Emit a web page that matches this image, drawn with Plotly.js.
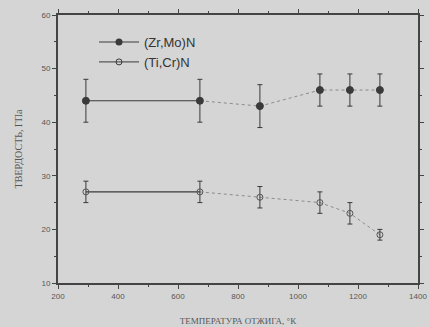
<!DOCTYPE html>
<html><head><meta charset="utf-8">
<script src="https://cdn.plot.ly/plotly-3.0.1.min.js"></script>
<style>html,body{margin:0;padding:0;background:#d5d5d5;}</style>
</head><body>
<div id="chart" style="width:430px;height:327px;"></div>
<script>
const temps = [293, 673, 873, 1073, 1173, 1273];
const zrMo = [44, 44, 43, 46, 46, 46];
const zrMoErr = [4, 4, 4, 3, 3, 3];
const tiCr = [27, 27, 26, 25, 23, 19];
const tiCrErr = [2, 2, 2, 2, 2, 1];
const seriesNames = ['(Zr,Mo)N', '(Ti,Cr)N'];

const axisCol = '#444';
const markCol = '#3a3a3a';

function seriesTraces(y, err, name, filled) {
  return [
    {x: temps.slice(1), y: y.slice(1), mode: 'lines', line: {color: '#777', width: 0.8, dash: 'dot'},
     showlegend: false, hoverinfo: 'skip'},
    {x: temps.slice(0, 2), y: y.slice(0, 2), mode: 'lines', line: {color: markCol, width: 1.2},
     showlegend: false, hoverinfo: 'skip'},
    {x: temps, y: y, name: name, mode: 'markers',
     marker: {symbol: filled ? 'circle' : 'circle-open', size: filled ? 7 : 6, color: filled ? markCol : '#555',
              line: {color: markCol, width: 1}},
     error_y: {type: 'data', array: err, visible: true, color: markCol, thickness: 1, width: 2.5},
     showlegend: false}
  ];
}

const traces = [...seriesTraces(zrMo, zrMoErr, seriesNames[0], true),
                ...seriesTraces(tiCr, tiCrErr, seriesNames[1], false)];
const legTraces = [
  {x: [null], y: [null], name: seriesNames[0], mode: 'lines+markers', line: {color: markCol, width: 1},
   marker: {symbol: 'circle', size: 7, color: markCol}},
  {x: [null], y: [null], name: seriesNames[1], mode: 'lines+markers', line: {color: markCol, width: 1},
   marker: {symbol: 'circle-open', size: 6, color: markCol}}
];

const layout = {
  width: 430, height: 327,
  margin: {l: 58, r: 12, t: 15, b: 44},
  paper_bgcolor: '#d5d5d5', plot_bgcolor: '#d5d5d5',
  showlegend: true,
  legend: {x: 0.1, y: 0.955, xanchor: 'left', yanchor: 'top', bgcolor: 'rgba(0,0,0,0)',
           font: {family: 'Liberation Sans, Arial, sans-serif', size: 13, color: '#333'},
           itemwidth: 40},
  xaxis: {range: [200, 1400], dtick: 200, showgrid: false, zeroline: false,
          showline: true, linecolor: axisCol, linewidth: 2, mirror: 'ticks',
          ticks: 'outside', ticklen: 4, tickcolor: axisCol,
          minor: {dtick: 100, ticks: 'outside', ticklen: 2, tickcolor: axisCol},
          tickfont: {family: 'Liberation Sans, Arial, sans-serif', size: 8, color: '#555'},
          title: {text: 'ТЕМПЕРАТУРА ОТЖИГА, °К', standoff: 18,
                  font: {family: 'Liberation Serif, DejaVu Serif, serif', size: 9, color: '#555'}}},
  yaxis: {range: [10, 60], dtick: 10, showgrid: false, zeroline: false,
          showline: true, linecolor: axisCol, linewidth: 2, mirror: 'ticks',
          ticks: 'outside', ticklen: 4, tickcolor: axisCol,
          minor: {dtick: 5, ticks: 'outside', ticklen: 2, tickcolor: axisCol},
          tickfont: {family: 'Liberation Sans, Arial, sans-serif', size: 8, color: '#555'},
          title: {text: 'ТВЕРДОСТЬ, ГПа', standoff: 17,
                  font: {family: 'Liberation Serif, DejaVu Serif, serif', size: 10, color: '#555'}}}
};

Plotly.newPlot('chart', [...traces, ...legTraces], layout, {displayModeBar: false, staticPlot: true});
</script>
</body></html>
